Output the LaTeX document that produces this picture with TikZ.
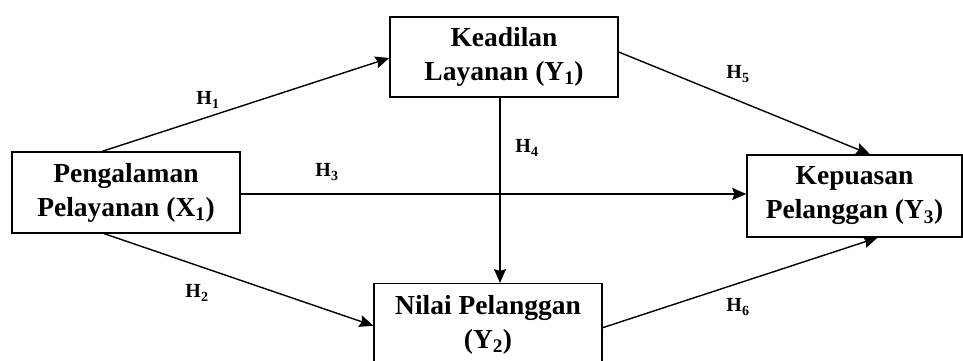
\documentclass[tikz,border=0pt]{standalone}
\usepackage{fontspec}
\setmainfont{Liberation Serif}
\usetikzlibrary{arrows.meta,calc}
\tikzset{
  box/.style={draw=black, line width=1.4pt, fill=white, inner sep=0pt, align=center,
    font=\fontsize{27.5}{34}\selectfont\bfseries},
  hlab/.style={inner sep=0pt, font=\fontsize{20}{22}\selectfont\bfseries},
  arr/.style={line width=1.4pt, -{Stealth[length=14pt,width=12pt,inset=2pt]}}
}
\begin{document}
\begin{tikzpicture}[x=1pt,y=-1pt]
\fill[white] (0,0) rectangle (963,361);
\clip (0,0) rectangle (963,361);
\node[box, minimum width=228pt, minimum height=81pt] (x1) at (126,192.5) {Pengalaman\\Pelayanan (X\textsubscript{1})};
\node[box, minimum width=228pt, minimum height=80pt] (y1) at (504,57) {Keadilan\\Layanan (Y\textsubscript{1})};
\node[box, minimum width=228pt, minimum height=92pt, anchor=north] (y2) at (488,283) {\raisebox{0pt}[0pt][0pt]{}\\[-25pt]Nilai Pelanggan\\(Y\textsubscript{2})};
\node[box, minimum width=215pt, minimum height=82pt] (y3) at (854.5,196) {Kepuasan\\Pelanggan (Y\textsubscript{3})};

\draw[arr] ([xshift=91pt]x1.north west) -- ([yshift=-1pt]y1.west);
\draw[arr] ([xshift=93pt]x1.south west) -- ([yshift=4pt]y2.west);
\draw[arr] ([yshift=-1.5pt]x1.east) -- ([yshift=-1.5pt]x1.east -| y3.west);
\draw[arr] ([xshift=-4pt]y1.south) -- ([xshift=-4pt]y1.south |- y2.north);
\draw[arr] ([yshift=5pt]y1.east) -- ([xshift=15.5pt]y3.north);
\draw[arr] ([yshift=2pt]y2.east) -- ([xshift=23pt]y3.south);

\node[hlab] (h1) at (208,100) {H\textsubscript{1}};
\node[hlab] (h2) at (197,293) {H\textsubscript{2}};
\node[hlab] (h3) at (327,172) {H\textsubscript{3}};
\node[hlab] (h4) at (527,148) {H\textsubscript{4}};
\node[hlab] (h5) at (738,74) {H\textsubscript{5}};
\node[hlab] (h6) at (738,307) {H\textsubscript{6}};
\end{tikzpicture}
\end{document}
